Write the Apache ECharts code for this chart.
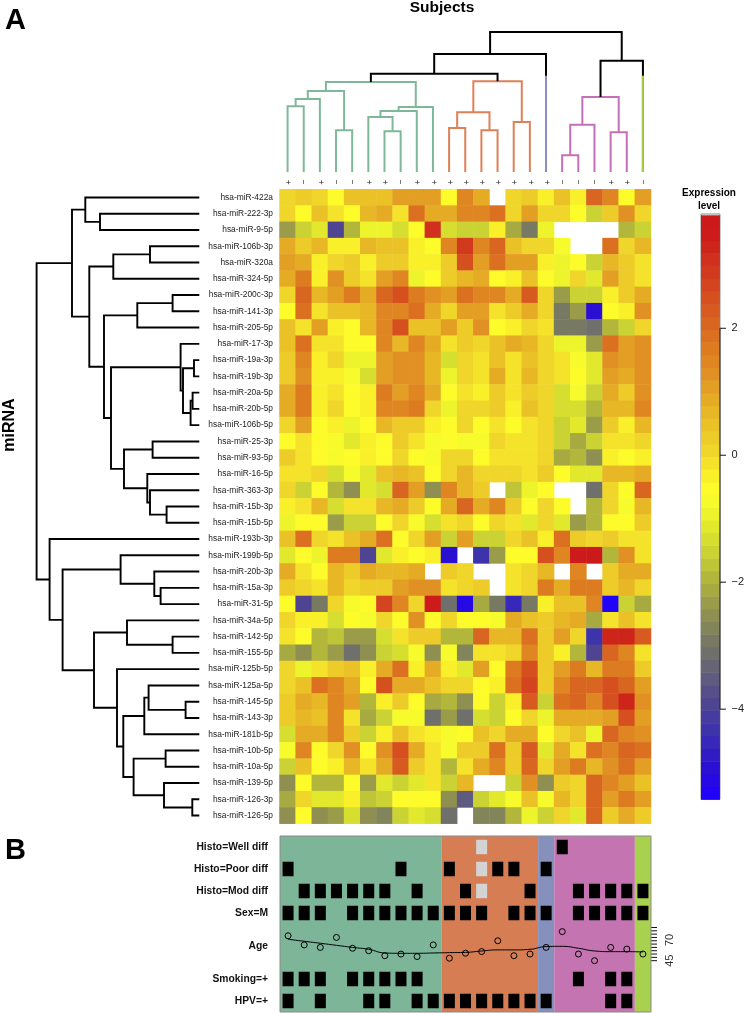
<!DOCTYPE html>
<html>
<head>
<meta charset="utf-8">
<style>
html, body { margin: 0; padding: 0; background: #fff; }
#main { width: 747px; height: 1014px; }
</style>
<script src="https://cdn.jsdelivr.net/npm/echarts@6/dist/echarts.min.js"></script>
</head>
<body>
<div id="main"></div>
<script>
var mirnas = ['hsa-miR-422a', 'hsa-miR-222-3p', 'hsa-miR-9-5p', 'hsa-miR-106b-3p', 'hsa-miR-320a', 'hsa-miR-324-5p',
    'hsa-miR-200c-3p', 'hsa-miR-141-3p', 'hsa-miR-205-5p', 'hsa-miR-17-3p', 'hsa-miR-19a-3p', 'hsa-miR-19b-3p',
    'hsa-miR-20a-5p', 'hsa-miR-20b-5p', 'hsa-miR-106b-5p', 'hsa-miR-25-3p', 'hsa-miR-93-5p', 'hsa-miR-16-5p',
    'hsa-miR-363-3p', 'hsa-miR-15b-3p', 'hsa-miR-15b-5p', 'hsa-miR-193b-3p', 'hsa-miR-199b-5p', 'hsa-miR-20b-3p',
    'hsa-miR-15a-3p', 'hsa-miR-31-5p', 'hsa-miR-34a-5p', 'hsa-miR-142-5p', 'hsa-miR-155-5p', 'hsa-miR-125b-5p',
    'hsa-miR-125a-5p', 'hsa-miR-145-5p', 'hsa-miR-143-3p', 'hsa-miR-181b-5p', 'hsa-miR-10b-5p', 'hsa-miR-10a-5p',
    'hsa-miR-139-5p', 'hsa-miR-126-3p', 'hsa-miR-126-5p'];

var subjectSigns = ['+', '\u2212', '+', '\u2212', '\u2212', '+', '+', '\u2212', '+', '+', '+', '+', '+', '+', '+', '+', '+', '\u2212', '\u2212', '\u2212', '+', '+', '\u2212'];

// expression per mirna (rows) and subject (columns), null = white cell
var expression = [
    [.1, .3, .1, -.5, .5, .5, .5, 1, 1, 1, -.5, 1.4, .8, null, .1, .3, -.4, .5, -.4, 2, 1.5, -.5, 1],
    [0, -.6, .4, -.2, -.6, .6, .8, -.1, 1.9, .8, .8, 1.4, 1.4, 1.8, .1, 1, .1, .1, -.5, -1.5, .3, 1.2, 0],
    [-2.3, -1.6, -1.1, -4, -1.9, -.9, -.9, -1.4, -.5, 3, -1.3, -1.6, -1.6, -.4, -2.1, -3, -.9, null, null, null, null, -1.9, -1.6],
    [.8, .3, .6, -.3, -.3, .6, .4, .5, -.4, -.6, 1.4, 2.8, 1.4, 2, .5, .1, 0, -.8, null, null, 1.8, .1, .6],
    [1, .8, -.4, .1, .3, -.4, .2, .2, -.3, -.3, .3, 2.4, 1.1, 1.9, 1, 1, -.4, -.9, -.6, -1.5, .6, .3, -.1],
    [.8, 1.6, -.4, 1.3, .3, -.1, 1, 1.5, -1, -.6, .3, .6, .9, -.6, -.4, .4, -.6, -.9, 0, -1.2, 1.1, .3, -.1],
    [0, 2, .6, 1.1, 1.6, .9, 2, 2.5, 1.6, 1.3, 1, 1.9, 1.5, 1.5, .8, 2.3, .1, -2.3, -1.5, -1.5, -.4, .2, .8],
    [-.5, 1.9, -.1, .4, .4, .6, 1.4, 1.4, 1.9, .8, .1, 1.1, 1.1, -.1, .3, .8, .1, -2.9, -2.4, -5, -.6, -.4, 1.3],
    [.5, -.1, 1.1, -.4, -.6, .6, 1.5, 2.4, .5, .5, 1, .3, 1.2, -.6, -.4, 0, -.1, -2.9, -2.9, -3.2, -1.9, -1.5, 0],
    [.5, 1.9, -.2, -.2, -.6, -.6, 1.4, .6, 1.4, .8, -.2, .3, .1, .5, .8, .6, .1, -.9, -.9, -2.3, 1.9, 1.1, 1.3],
    [.3, 1.4, -.4, .1, -.9, -.9, 1, 1.3, 1.3, .6, -1.3, .1, -.1, .5, -.2, .4, .1, -.2, -.8, -1.2, 1.3, 1, 1.3],
    [.3, 1.2, -.4, -.3, -.8, -1.4, 1, 1.3, 1.3, .6, -.9, .1, -.1, .9, -.2, .6, .1, -.2, -.6, -1.2, 1.1, .8, 1.3],
    [.8, 1.6, -.3, -.1, -.6, -.3, 1.6, 1.1, 1.5, .8, -.6, -.1, -.4, .3, -.2, .3, .1, -1.3, -.8, -1.6, .9, .3, 1.3],
    [.9, 1.6, -.3, 0, -.6, -.3, 1.4, 1.4, 1.7, 0, -.9, .1, .1, .3, -.4, .4, .1, -1.4, -1.4, -1.9, .6, .6, 1.5],
    [0, 1, -.6, -.4, -.9, -.6, .6, .3, .3, -.4, -.6, .1, -.6, -.2, -.6, -.2, .1, -1.6, -1.1, -2.3, .3, -.4, .6],
    [-.6, -.2, -.6, -.8, -1.1, -.4, -.6, .3, -.1, -.8, -.6, -.8, -.8, .1, -.2, -.2, .1, -1.6, -2.1, -1.6, -.2, -.2, 0],
    [.3, -.1, -.6, -.8, -.6, -.4, -.6, .1, -.5, -.8, .1, 0, -.6, -.1, -.1, -.1, .1, -2.1, -1.9, -2.5, -.4, -.6, -.4],
    [-.1, -.1, .1, -1.3, -.8, -1.1, .4, .6, .4, -.6, .1, .6, .1, .1, .1, -.1, .2, -.5, -1.1, -1.1, .7, .7, .8],
    [.1, -1.6, -.5, -1.9, -2.5, -1.1, -1.3, 2.1, 1, -2.5, 1.5, .6, .2, null, -1.8, -1, -.5, null, null, -3.2, 0, -.5, 2.1],
    [-.3, -.1, .6, -1.3, -.2, -.2, .6, .8, .2, -.5, .8, 2.1, .9, 1.4, .3, -.5, .1, -.5, null, -2, 0, -.8, .6],
    [-.9, -.6, -.6, -2.3, -1.5, -1.5, -.5, 0, -.8, -1.3, -.1, .1, -.6, .1, -.1, -1.1, .1, -1.1, -2.3, -1.9, -.5, -.5, .3],
    [.4, 1.8, .1, -.1, .4, .9, 1.9, -.5, .1, 1, -1.6, 1, -1.6, -1.6, .1, .5, -.3, 1.9, .3, .1, .3, -.1, -.1],
    [-1.2, -.6, -.9, 1.7, 1.7, -3.9, -1.2, -.3, -.5, -.3, -4.9, null, -4.3, -2.3, -.6, -.6, 2.4, 1.5, 3.5, 3.6, -1.9, 1.3, -.2],
    [.9, -.1, -.6, .6, .3, .9, .6, .6, .8, null, .3, 0, null, null, -.2, 0, .6, null, 1.4, null, .3, .8, .8],
    [.3, .1, -.1, .6, .1, .3, .3, 1, 1.3, 1.3, -.2, .1, .2, null, -.2, 0, 1.6, .9, 1.6, 1.6, .2, .6, .1],
    [-.5, -3.9, -2.9, .1, -.8, -.5, 2.7, 1.5, .1, 3.5, -3.2, -5.2, -2.1, -2.9, -4.6, -2.9, -.3, .4, .4, 1.4, -5.4, -1.6, -2.1],
    [0, -.3, -.3, -1.4, -.6, -.8, .1, -.5, 1.3, -.6, 0, -.6, -.6, -.8, .9, .4, .2, .6, .8, -2.1, -.2, .5, -.2],
    [-.1, -.6, -1.9, -1.7, -2.4, -2.4, -1.3, -.2, .2, .2, -2, -1.9, 2, .6, .6, 1.8, .2, 1, .1, -4.3, 3.2, 3.2, 2.2],
    [-2.2, -2.6, -1.9, -2.3, -3.2, -2.5, -1.5, -1.3, -.8, -2.5, -.8, -2.7, -.2, -.2, 0, 1.5, .2, -.4, -1.9, -3.9, 2.1, 1.4, -.2],
    [0, -.9, -.1, .2, .5, -.3, .9, 1.9, -.3, .9, -.4, -1.2, 1, -.5, 1.6, 2.5, .2, 1, 1.6, .6, 1.7, 1.7, .3],
    [.1, .5, 1.9, 1.4, .8, -.5, 2.5, .8, .8, .5, 0, 0, -.5, -.3, 1.9, 2.7, .2, 1.4, 2.1, 2.1, 2.4, 2, 1.1],
    [.2, .9, .6, 1.5, 1.1, -1.9, -.3, .2, -.6, -2.2, -1.9, -2.5, -.5, -1.6, -.4, 2.2, -1.6, 1.9, 2.1, 1.5, 2.4, 3.2, 1.3],
    [.2, .6, .4, 1.5, -.1, -2.2, -1.6, -.8, -.8, -3.2, -2.4, -3.2, -1.4, -1.6, -.6, .1, -.9, .8, .8, .8, 1.1, 2.4, 1.1],
    [-1.4, .9, .9, 1.5, .2, -1.6, -.3, .5, -.1, -.3, -.8, -.6, .5, 0, .8, .8, -.6, .1, .5, -.9, 2, 1.4, 1.2],
    [-.8, 1.5, -.6, .1, 1.3, -.6, 1.3, 2.4, .9, -.2, -.8, .3, .3, 1.9, .3, 2.2, -1.2, .8, -.1, 1.8, 1.5, 2, 1.8],
    [-1.5, .4, -.6, -.3, .7, -.1, .9, 2.2, .2, -.1, -1.9, -.1, .8, 1.4, .2, 2, .1, 1.1, 1.6, .7, 1.2, 1.9, 1.1],
    [-2.5, -.5, -1.9, -1.9, -.6, -2.4, -1.2, -1.5, -1.2, -.2, -1.6, .6, null, null, -1.6, 1.2, -2.6, .3, .1, 2, 1.4, 1.1, .5],
    [-2.1, .1, -1.2, -1.2, -.3, -1.7, -1.5, -.6, -.6, -.6, -2.5, -3.5, -1.6, -1.2, -.8, .4, -.8, .6, .1, 2, 1.1, 1.6, 1],
    [-2.6, -.6, -2.5, -2.3, -1.4, -2.6, -2.8, -1.6, -1.2, -1.4, -3.2, null, -2.7, -2.7, -2, -.9, -1.6, .1, -1.2, 2, .3, .8, .3]
];

// dendrograms as hclust merges: negative = leaf number, positive = earlier merge, then height
var colMerge = [[-1, -2, 65.7], [1, -3, 73], [-4, -5, 41.7], [2, 3, 81], [-7, -8, 40.7], [-6, 5, 55], [6, -9, 61], [7, -10, 65], [4, 8, 90],
    [-11, -12, 44], [-13, -14, 41.7], [10, 11, 59.7], [-15, -16, 50], [12, 13, 90.7],
    [9, 14, 98.3], [15, -17, 118],
    [-18, -19, 16.7], [17, -20, 47.3], [-21, -22, 39.7], [18, 19, 75],
    [20, -23, 111.3], [16, 21, 140]];
var colMergeCluster = [0, 0, 0, 0, 0, 0, 0, 0, 0, 1, 1, 1, 1, 1, 5, 5, 3, 3, 3, 3, 5, 5];
var colLeafStems = [[16, 96.3, 2], [22, 96.3, 4]];

var rowMerge = [[-2, -3, 99.3], [-1, 1, 114], [-4, -5, 49.3], [3, -6, 86], [-7, -8, 26.7], [5, -9, 62], [-11, -12, 5.3], [-13, -14, 6.7],
    [8, -15, 8.7], [7, 9, 16.3], [-10, 10, 18.7], [-16, -17, 46.7], [-20, -21, 32.7], [-19, 13, 49.3], [-18, 14, 52], [12, 15, 75.3],
    [11, 16, 88.3], [6, 17, 95.3], [4, 18, 110], [2, 19, 127.3], [-25, -26, 38.7], [-24, 21, 45], [-23, 22, 78.7], [-28, -29, 26.7],
    [-27, 24, 72.3], [-32, -33, 13.7], [-31, 26, 50.7], [27, -34, 55], [-35, -36, 33.7], [-38, -39, 7], [-37, 30, 35.3], [29, 31, 65.7],
    [28, 32, 76], [-30, 33, 82.3], [25, 34, 105.3], [23, 35, 136.7], [-22, 36, 149.7], [20, 37, 162.7]];

// colour key axis
var keyTicks = [-4, -2, 0, 2];

// panel B
var clusterSpans = [[0, 10, 0], [10, 16, 1], [16, 17, 2], [17, 22, 3], [22, 23, 4]];
var histoWell = [0, 0, 0, 0, 0, 0, 0, 0, 0, 0, 0, 0, 0, 0, 0, 0, 0, 1, 0, 0, 0, 0, 0];
var histoPoor = [1, 0, 0, 0, 0, 0, 0, 1, 0, 0, 1, 0, 0, 1, 1, 0, 1, 0, 0, 0, 0, 0, 0];
var histoMod = [0, 1, 1, 1, 1, 1, 1, 0, 1, 0, 0, 1, 0, 0, 0, 1, 0, 0, 1, 1, 1, 1, 1];
var sexM = [1, 1, 1, 0, 1, 1, 1, 1, 1, 1, 1, 1, 1, 0, 1, 1, 1, 0, 1, 1, 1, 1, 1];
var smoking = [1, 1, 1, 0, 1, 1, 1, 1, 1, 0, 0, 0, 0, 0, 0, 0, 0, 0, 1, 0, 1, 1, 0];
var hpv = [1, 0, 1, 0, 0, 1, 1, 0, 1, 1, 1, 1, 1, 1, 1, 1, 1, 0, 0, 0, 1, 1, 0];
var histoMissing = [12];
var ageValues = [75, 64, 61, 73, 60, 57, 51, 53, 50, 64, 48, 54, 56, 69, 51, 53, 61, 80, 53, 45, 61, 59, 53];
var ageSmooth = [70.8, 68.4, 66, 63.5, 61, 58.7, 54.3, 53.9, 53.9, 54.3, 54.7, 55, 56.7, 58, 58, 58.7, 62, 62.3, 60, 56.7, 55.9, 55.9, 55.5];
var ageTicks = [45, 49, 53, 57, 61, 65, 69, 73, 77, 81, 85];
var ageLabels = [45, 70];
var trackNames = ['Histo=Well diff', 'Histo=Poor diff', 'Histo=Mod diff', 'Sex=M', 'Age', 'Smoking=+', 'HPV=+'];
var trackCentres = [.5, 1.5, 2.5, 3.5, 5, 6.5, 7.5];

var clusterColors = ['#7fb899', '#dd8158', '#8a8fc2', '#c66fb6', '#a9cf4b', '#000000'];
var bandColors = ['#7cb597', '#d67d54', '#8590bd', '#c474b0', '#a8d14f'];
var colorStops = [[-5.4, 31, 0, 255], [-4.9, 43, 16, 208], [-4.4, 58, 47, 176], [-3.9, 79, 69, 144], [-3.2, 108, 108, 112], [-2.9, 120, 122, 98],
    [-2.5, 143, 144, 80], [-2.1, 168, 170, 64], [-1.6, 197, 207, 53], [-1.2, 221, 228, 44], [-.9, 238, 245, 44], [-.6, 255, 255, 42],
    [-.2, 246, 233, 42], [.1, 240, 212, 42], [.6, 232, 188, 38], [1, 228, 163, 37], [1.4, 224, 138, 34], [2, 217, 106, 32],
    [2.7, 212, 67, 31], [3.5, 204, 26, 26], [3.8, 204, 26, 26]];

var FONT = '"Liberation Sans", Arial, sans-serif';

function colorOf(v) {
    for (var i = 1; i < colorStops.length; i++) {
        if (v <= colorStops[i][0]) {
            var a = colorStops[i - 1], b = colorStops[i];
            var t = (v - a[0]) / (b[0] - a[0]);
            return 'rgb(' + Math.round(a[1] + (b[1] - a[1]) * t) + ',' + Math.round(a[2] + (b[2] - a[2]) * t) + ',' + Math.round(a[3] + (b[3] - a[3]) * t) + ')';
        }
    }
    return 'rgb(204,26,26)';
}

// the colour key has 46 steps of 0.2
var pieces = [], keySteps = [];
for (var s = 0; s < 46; s++) {
    var low = -5.42 + s * 0.2;
    var c = colorOf(low + 0.1);
    keySteps.push([low, low + 0.2, c]);
    pieces.push({ min: s === 0 ? -10 : low, max: s === 45 ? 10 : low + 0.2, color: c });
}

var heatData = [];
expression.forEach(function (row, r) {
    row.forEach(function (v, c) {
        if (v !== null) heatData.push([c, r, v]);
    });
});

// hclust merges -> [pos1, h1, pos2, h2, h, cluster]
function dendroSegments(merge, clusters) {
    var pos = [], segs = [];
    function child(id) {
        return id < 0 ? [-id - 0.5, 0] : pos[id - 1];
    }
    merge.forEach(function (m, i) {
        var a = child(m[0]), b = child(m[1]);
        segs.push([a[0], a[1], b[0], b[1], m[2], clusters ? clusters[i] : 5]);
        pos.push([(a[0] + b[0]) / 2, m[2]]);
    });
    return segs;
}

function renderColDendro(params, api) {
    var p = [[api.value(0), api.value(1)], [api.value(0), api.value(4)], [api.value(2), api.value(4)], [api.value(2), api.value(3)]];
    return {
        type: 'polyline',
        shape: { points: p.map(function (q) { return api.coord(q); }) },
        style: { fill: null, stroke: clusterColors[api.value(5)], lineWidth: 2 }
    };
}

function renderRowDendro(params, api) {
    var p = [[api.value(1), api.value(0)], [api.value(4), api.value(0)], [api.value(4), api.value(2)], [api.value(3), api.value(2)]];
    return {
        type: 'polyline',
        shape: { points: p.map(function (q) { return api.coord(q); }) },
        style: { fill: null, stroke: '#000', lineWidth: 1.9 }
    };
}

// short outward ticks at the right edge of a panel, in axis units
function renderRightTick(xEdge, len, width) {
    return function (params, api) {
        var a = api.coord([xEdge, api.value(0)]);
        return {
            type: 'line', shape: { x1: a[0], y1: a[1], x2: a[0] + len, y2: a[1] },
            style: { stroke: '#111', lineWidth: width }
        };
    };
}

function marks(flags, y) {
    var out = [];
    flags.forEach(function (f, i) {
        if (f) out.push([i + 0.5, y]);
    });
    return out;
}

var blackMarks = [].concat(marks(histoWell, .5), marks(histoPoor, 1.5), marks(histoMod, 2.5), marks(sexM, 3.5), marks(smoking, 6.5), marks(hpv, 7.5));
var greyMarks = [];
histoMissing.forEach(function (c) {
    greyMarks.push([c + .5, .5], [c + .5, 1.5], [c + .5, 2.5]);
});

function hiddenValue(idx, min, max, inverse) {
    return { type: 'value', gridIndex: idx, min: min, max: max, inverse: !!inverse, show: false };
}

var chart = echarts.init(document.getElementById('main'), null, { renderer: 'canvas' });

var option = {
    animation: false,
    backgroundColor: '#fff',
    textStyle: { fontFamily: FONT },
    grid: [
        { left: 279.5, top: 189.3, width: 371.5, height: 634.4 },
        { left: 279.5, top: 0, width: 371.5, height: 172 },
        { left: 0, top: 189.3, width: 199.3, height: 634.4 },
        { left: 701, top: 214, width: 21.5, height: 585.3, show: true, borderColor: '#888', borderWidth: 1 },
        { left: 280, top: 836, width: 371, height: 176 },
        { left: 280, top: 925, width: 371, height: 40 }
    ],
    xAxis: [
        {
            type: 'category', gridIndex: 0, data: subjectSigns, position: 'top',
            axisLine: { show: false }, axisTick: { show: false },
            axisLabel: { interval: 0, rotate: 90, fontSize: 8.5, margin: 4.5, color: '#222', fontFamily: FONT }
        },
        hiddenValue(1, 0, 23),
        hiddenValue(2, 0, 199.3, true),
        hiddenValue(3, 0, 1),
        hiddenValue(4, 0, 23),
        hiddenValue(5, 0, 23)
    ],
    yAxis: [
        {
            type: 'category', gridIndex: 0, data: mirnas, inverse: true,
            axisLine: { show: false }, axisTick: { show: false },
            axisLabel: { interval: 0, fontSize: 8.4, margin: 6.5, color: '#222', fontFamily: FONT }
        },
        hiddenValue(1, 0, 172),
        hiddenValue(2, 0, 39, true),
        {
            type: 'value', gridIndex: 3, position: 'right', min: -5.42, max: 3.8,
            splitLine: { show: false }, axisLine: { show: false }, axisTick: { show: false },
            axisLabel: {
                fontSize: 11, margin: 11.5, color: '#222', fontFamily: FONT, customValues: keyTicks,
                formatter: function (v) { return String(v).replace('-', '\u2212'); }
            }
        },
        {
            type: 'value', gridIndex: 4, min: 0, max: 8, inverse: true,
            splitLine: { show: false }, axisLine: { show: false }, axisTick: { show: false },
            axisLabel: {
                fontSize: 10.3, fontWeight: 'bold', margin: 12, color: '#111', fontFamily: FONT, customValues: trackCentres,
                formatter: function (v) { return trackNames[trackCentres.indexOf(v)]; }
            }
        },
        {
            type: 'value', gridIndex: 5, position: 'right', min: 39.8, max: 88,
            splitLine: { show: false }, axisLine: { show: false }, axisTick: { show: false },
            axisLabel: { fontSize: 11, rotate: 90, margin: 13, color: '#333', fontFamily: FONT, customValues: ageLabels }
        }
    ],
    visualMap: [{
        type: 'piecewise', show: false, seriesIndex: 0, dimension: 2, pieces: pieces
    }],
    series: [
        {
            name: 'Expression', type: 'heatmap', xAxisIndex: 0, yAxisIndex: 0, data: heatData,
            itemStyle: { borderWidth: 0 }, emphasis: { disabled: true }, progressive: 0
        },
        {
            name: 'Subjects tree', type: 'custom', xAxisIndex: 1, yAxisIndex: 1, clip: false, silent: true,
            data: dendroSegments(colMerge, colMergeCluster), renderItem: renderColDendro
        },
        {
            name: 'Subject leaves', type: 'custom', xAxisIndex: 1, yAxisIndex: 1, clip: false, silent: true, data: colLeafStems,
            renderItem: function (params, api) {
                var a = api.coord([api.value(0) + .5, 0]), b = api.coord([api.value(0) + .5, api.value(1)]);
                return {
                    type: 'line', shape: { x1: a[0], y1: a[1], x2: b[0], y2: b[1] },
                    style: { stroke: clusterColors[api.value(2)], lineWidth: 2 }
                };
            }
        },
        {
            name: 'miRNA tree', type: 'custom', xAxisIndex: 2, yAxisIndex: 2, clip: false, silent: true,
            data: dendroSegments(rowMerge), renderItem: renderRowDendro
        },
        {
            name: 'Colour key', type: 'custom', xAxisIndex: 3, yAxisIndex: 3, silent: true, data: keySteps,
            renderItem: function (params, api) {
                var a = api.coord([0, api.value(1)]), b = api.coord([1, api.value(0)]);
                return {
                    type: 'rect', shape: { x: a[0], y: a[1], width: b[0] - a[0], height: b[1] - a[1] + .5 },
                    style: { fill: keySteps[params.dataIndex][2] }
                };
            }
        },
        {
            name: 'Key axis', type: 'line', xAxisIndex: 3, yAxisIndex: 3, clip: false, silent: true, symbol: 'none', z: 5,
            lineStyle: { color: '#222', width: 1 }, data: [[1, -4], [1, 2]]
        },
        {
            name: 'Key ticks', type: 'custom', xAxisIndex: 3, yAxisIndex: 3, clip: false, silent: true, z: 5,
            data: keyTicks.map(function (v) { return [v]; }), encode: { y: 0 }, renderItem: renderRightTick(1, 6, 1)
        },
        {
            name: 'Cluster bands', type: 'custom', xAxisIndex: 4, yAxisIndex: 4, silent: true, data: clusterSpans,
            renderItem: function (params, api) {
                var a = api.coord([api.value(0), 0]), b = api.coord([api.value(1), 8]);
                return {
                    type: 'rect', shape: { x: a[0], y: a[1], width: b[0] - a[0], height: b[1] - a[1] },
                    style: { fill: bandColors[api.value(2)] }
                };
            }
        },
        {
            name: 'Present', type: 'scatter', xAxisIndex: 4, yAxisIndex: 4, silent: true, symbol: 'rect', symbolSize: [11, 14.5], z: 3,
            itemStyle: { color: '#000', opacity: 1 }, data: blackMarks
        },
        {
            name: 'Missing', type: 'scatter', xAxisIndex: 4, yAxisIndex: 4, silent: true, symbol: 'rect', symbolSize: [11, 14.5], z: 3,
            itemStyle: { color: '#d3d3d3', opacity: 1 }, data: greyMarks
        },
        {
            name: 'Age ticks', type: 'custom', xAxisIndex: 5, yAxisIndex: 5, clip: false, silent: true, z: 5,
            data: ageTicks.map(function (v) { return [v]; }), encode: { y: 0 }, renderItem: renderRightTick(23, 6, 1)
        },
        {
            name: 'Age trend', type: 'line', xAxisIndex: 5, yAxisIndex: 5, silent: true, smooth: true, symbol: 'none', z: 4,
            lineStyle: { color: '#000', width: 1 },
            data: ageSmooth.map(function (v, i) { return [i + .5, v]; })
        },
        {
            name: 'Age', type: 'scatter', xAxisIndex: 5, yAxisIndex: 5, silent: true, symbol: 'circle', symbolSize: 6, z: 4,
            itemStyle: { color: 'rgba(0,0,0,0)', borderColor: '#000', borderWidth: 1, opacity: 1 },
            data: ageValues.map(function (v, i) { return [i + .5, v]; })
        }
    ],
    graphic: [
        { type: 'rect', z: 20, silent: true, shape: { x: 280, y: 836, width: 371, height: 176 }, style: { fill: null, stroke: '#8a8a8a', lineWidth: 1 } },
        { type: 'text', z: 20, left: 5, top: 6, style: { text: 'A', font: 'bold 29px ' + FONT, fill: '#000' } },
        { type: 'text', z: 20, left: 5, top: 836, style: { text: 'B', font: 'bold 29px ' + FONT, fill: '#000' } },
        { type: 'text', z: 20, x: 442, y: 8, style: { text: 'Subjects', font: 'bold 15.5px ' + FONT, fill: '#000', textAlign: 'center', textVerticalAlign: 'middle' } },
        { type: 'text', z: 20, x: 9.5, y: 425, rotation: Math.PI / 2, style: { text: 'miRNA', font: 'bold 16px ' + FONT, fill: '#000', textAlign: 'center', textVerticalAlign: 'middle' } },
        { type: 'text', z: 20, x: 709, y: 193.3, style: { text: 'Expression', font: 'bold 10px ' + FONT, fill: '#000', textAlign: 'center', textVerticalAlign: 'middle' } },
        { type: 'text', z: 20, x: 709, y: 206, style: { text: 'level', font: 'bold 10px ' + FONT, fill: '#000', textAlign: 'center', textVerticalAlign: 'middle' } }
    ]
};

chart.setOption(option);
</script>
</body>
</html>
